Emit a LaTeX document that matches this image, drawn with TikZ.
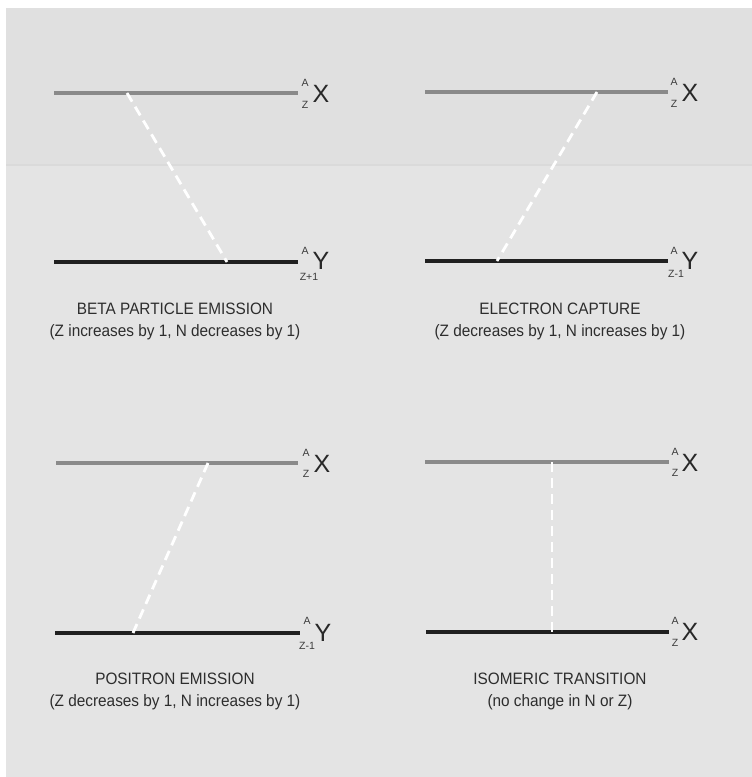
\documentclass[tikz,border=0pt]{standalone}
\usepackage{fontspec}
\setmainfont{Liberation Sans}
\newfontfamily\captfont[FakeStretch=0.93]{Liberation Sans}
\begin{document}
\begin{tikzpicture}[x=1pt,y=-1pt,
  toplevel/.style={draw={rgb,255:red,138;green,138;blue,138}, line width=3.2pt},
  botlevel/.style={draw={rgb,255:red,32;green,32;blue,32}, line width=3.5pt},
  decay/.style={draw=white, line width=2.8pt, dash pattern=on 10pt off 6pt},
  big/.style={inner sep=0pt, font=\fontsize{25}{25}\selectfont, text={rgb,255:red,40;green,40;blue,40}},
  small/.style={inner sep=0pt, font=\fontsize{10.5}{10.5}\selectfont, text={rgb,255:red,60;green,60;blue,60}},
  capt/.style={inner sep=0pt, align=center, font=\captfont\fontsize{16.5}{22}\selectfont, text={rgb,255:red,45;green,45;blue,45}}
]
\definecolor{bg}{RGB}{228,228,228}
\definecolor{bgtop}{RGB}{224,224,224}
\useasboundingbox (0,0) rectangle (752,777);
\fill[white] (0,0) rectangle (752,777);
\fill[bg] (6,8) rectangle (752,777);
\fill[bgtop] (6,8) rectangle (752,165);
\draw[draw={rgb,255:red,218;green,218;blue,218}, line width=1.5pt] (6,165) -- (752,165);

% ---------- Panel 1: beta particle emission
\coordinate (a1) at (54,93);  \coordinate (a2) at (298,93);
\coordinate (b1) at (54,262); \coordinate (b2) at (298,262);
\coordinate (ad) at (127,93); \coordinate (bd) at (227,262);
\draw[toplevel] (a1) -- (a2);
\draw[botlevel] (b1) -- (b2);
\draw[decay] (ad) -- (bd);
\node[big] (aX) at (321,94) {X};
\node[small] (aA) at (305,83) {A};
\node[small] (aZ) at (305,105) {Z};
\node[big] (bY) at (321,261) {Y};
\node[small] (bA) at (305,251) {A};
\node[small] (bZ) at (309,277) {Z+1};
\node[capt] (c1) at (175,321) {BETA PARTICLE EMISSION\\(Z increases by 1, N decreases by 1)};

% ---------- Panel 2: electron capture
\coordinate (c1a) at (425,92);  \coordinate (c2a) at (668,92);
\coordinate (d1) at (425,261);  \coordinate (d2) at (668,261);
\coordinate (cd) at (597,92);   \coordinate (dd) at (497,261);
\draw[toplevel] (c1a) -- (c2a);
\draw[botlevel] (d1) -- (d2);
\draw[decay] (cd) -- (dd);
\node[big] (cX) at (690,93) {X};
\node[small] (cA) at (674,82) {A};
\node[small] (cZ) at (674,104) {Z};
\node[big] (dY) at (690,261) {Y};
\node[small] (dA) at (674,251) {A};
\node[small] (dZ) at (676,274) {Z-1};
\node[capt] (c2) at (560,321) {ELECTRON CAPTURE\\(Z decreases by 1, N increases by 1)};

% ---------- Panel 3: positron emission
\coordinate (e1) at (56,463);  \coordinate (e2) at (298,463);
\coordinate (f1) at (55,633);  \coordinate (f2) at (300,633);
\coordinate (ed) at (208,463); \coordinate (fd) at (133,633);
\draw[toplevel] (e1) -- (e2);
\draw[botlevel] (f1) -- (f2);
\draw[decay] (ed) -- (fd);
\node[big] (eX) at (322,464) {X};
\node[small] (eA) at (306,453) {A};
\node[small] (eZ) at (306,474) {Z};
\node[big] (fY) at (323,633) {Y};
\node[small] (fA) at (307,621) {A};
\node[small] (fZ) at (307,646) {Z-1};
\node[capt] (c3) at (175,691) {POSITRON EMISSION\\(Z decreases by 1, N increases by 1)};

% ---------- Panel 4: isomeric transition
\coordinate (g1) at (425,462);  \coordinate (g2) at (669,462);
\coordinate (h1) at (426,632);  \coordinate (h2) at (669,632);
\coordinate (gd) at (552,462);  \coordinate (hd) at (552,632);
\draw[toplevel] (g1) -- (g2);
\draw[botlevel] (h1) -- (h2);
\draw[decay] (gd) -- (hd);
\node[big] (gX) at (690,463) {X};
\node[small] (gA) at (675,452) {A};
\node[small] (gZ) at (675,473) {Z};
\node[big] (hX) at (690,632) {X};
\node[small] (hA) at (675,621) {A};
\node[small] (hZ) at (675,643) {Z};
\node[capt] (c4) at (560,691) {ISOMERIC TRANSITION\\(no change in N or Z)};
\end{tikzpicture}
\end{document}
